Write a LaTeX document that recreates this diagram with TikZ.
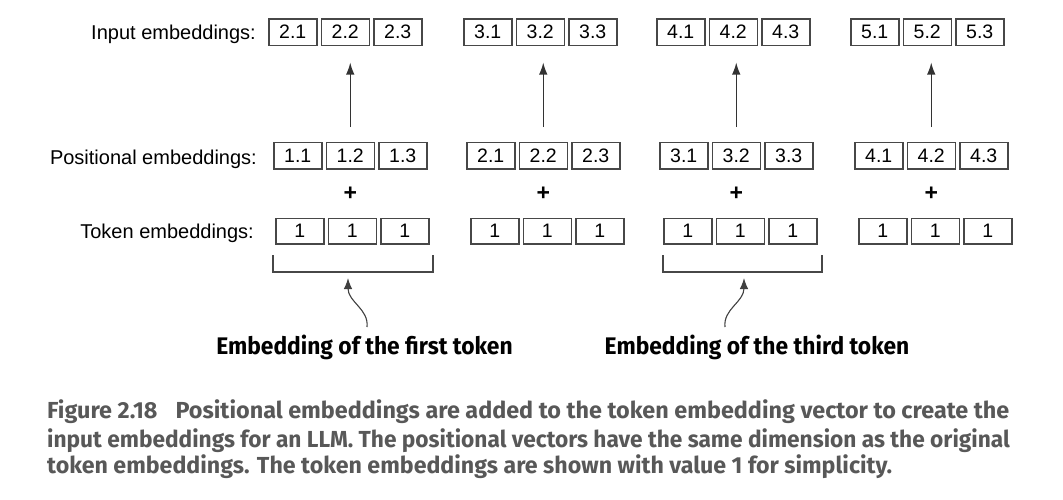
\documentclass[tikz,border=0pt]{standalone}
\usepackage{fontspec}
\setmainfont{Liberation Sans}
\newfontfamily\capfont{Fira Sans}
\newfontfamily\annfont[FakeStretch=0.95]{Fira Sans}
\usetikzlibrary{arrows.meta}
\definecolor{capgray}{RGB}{88,88,88}
\tikzset{
  cell/.style={draw=black!72, line width=1.5pt, minimum width=48pt, minimum height=26.5pt,
    inner sep=0pt, font=\fontsize{19.5}{22}\selectfont},
  tcell/.style={cell, minimum height=25.5pt},
  rowlabel/.style={anchor=base east, inner sep=0pt, font=\fontsize{20}{24}\selectfont},
  plus/.style={inner sep=0pt, font=\fontsize{23}{24}\selectfont\bfseries},
  arr/.style={draw=black!80, line width=1.3pt, -{Latex[length=12pt,width=8.5pt]}},
  brk/.style={draw=black!72, line width=1.4pt},
  ann/.style={anchor=base, inner sep=0pt, font=\annfont\bfseries\fontsize{24}{28}\selectfont},
  capline/.style={anchor=base west, inner sep=0pt, text=capgray, font=\capfont\bfseries\fontsize{23.2}{26}\selectfont}
}
\begin{document}
\begin{tikzpicture}[x=1pt,y=-1pt]
\useasboundingbox (0,0) rectangle (1063,499);
% row labels
\node[rowlabel] (linput) at (256,39) {Input embeddings:};
\node[rowlabel] (lpos) at (257,164) {Positional embeddings:};
\node[rowlabel] (ltok) at (254,238) {Token embeddings:};
% groups: g / input left / pos left / tok left / input values / pos values
\foreach \g/\xi/\xp/\xt/\ia/\ib/\ic/\pa/\pb/\pc in {
  1/268/273/275/2.1/2.2/2.3/1.1/1.2/1.3,
  2/463/466/470/3.1/3.2/3.3/2.1/2.2/2.3,
  3/656/659/663/4.1/4.2/4.3/3.1/3.2/3.3,
  4/850/854/858/5.1/5.2/5.3/4.1/4.2/4.3}{
  \node[cell] (in\g-1) at (\xi+24.75,32) {\ia};
  \node[cell] (in\g-2) at (\xi+77.25,32) {\ib};
  \node[cell] (in\g-3) at (\xi+129.75,32) {\ic};
  \node[cell] (pos\g-1) at (\xp+24.75,155.5) {\pa};
  \node[cell] (pos\g-2) at (\xp+77.25,155.5) {\pb};
  \node[cell] (pos\g-3) at (\xp+129.75,155.5) {\pc};
  \node[plus] (plus\g) at (\xp+77.25,194) {+};
  \node[tcell] (tok\g-1) at (\xt+24.75,231) {1};
  \node[tcell] (tok\g-2) at (\xt+77.25,231) {1};
  \node[tcell] (tok\g-3) at (\xt+129.75,231) {1};
  \draw[arr, shorten <=14.5pt, shorten >=16.5pt] (pos\g-2.north) -- (pos\g-2.north |- in\g-2.south);
}
% brackets
\coordinate (b1a) at (273,255); \coordinate (b1b) at (273,272);
\coordinate (b1c) at (433,272); \coordinate (b1d) at (433,255);
\draw[brk] (b1a) -- (b1b) -- (b1c) -- (b1d);
\coordinate (b3a) at (663,255); \coordinate (b3b) at (663,272);
\coordinate (b3c) at (822,272); \coordinate (b3d) at (822,255);
\draw[brk] (b3a) -- (b3b) -- (b3c) -- (b3d);
% annotation labels
\node[ann] (ann1) at (364.5,354) {Embedding of the first token};
\node[ann] (ann3) at (757,354) {Embedding of the third token};
\coordinate (t1) at (367,327); \coordinate (h1) at (348,278);
\coordinate (t3) at (725,327); \coordinate (h3) at (744,278);
\draw[arr, line width=1.1pt, draw=black!75, -{Latex[length=11pt,width=8.5pt]}] (t1) .. controls (369,309) and (348,302) .. (h1);
\draw[arr, line width=1.1pt, draw=black!75, -{Latex[length=11pt,width=8.5pt]}] (t3) .. controls (723,309) and (744,302) .. (h3);
% caption
\node[capline] (cap1) at (47,418) {\scalebox{1.008}[1]{Figure 2.18\hspace{18pt}Positional embeddings are added to the token embedding vector to create the}};
\node[capline] (cap2) at (47,447) {\scalebox{0.978}[1]{input embeddings for an LLM. The positional vectors have the same dimension as the original}};
\node[capline] (cap3) at (47,473) {token embeddings. The token embeddings are shown with value 1 for simplicity.};
\end{tikzpicture}
\end{document}
